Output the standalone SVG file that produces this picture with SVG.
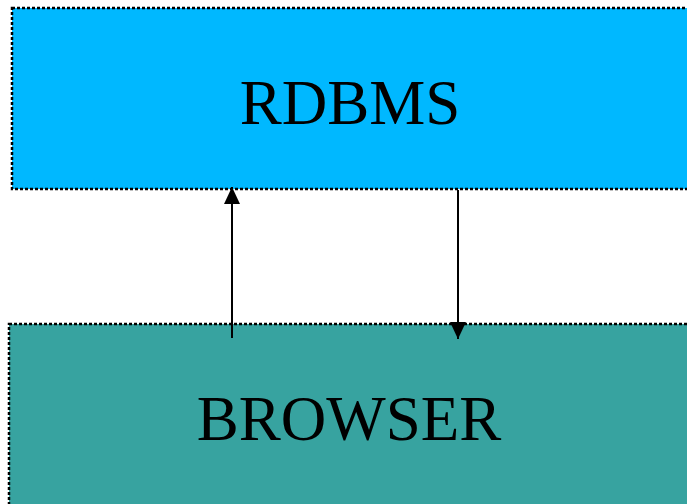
<svg xmlns="http://www.w3.org/2000/svg" width="687" height="504" viewBox="0 0 687 504">
<defs>
<style>
.box{stroke:#000;stroke-width:2.5;stroke-dasharray:3 2}
.lbl{font-family:"Liberation Serif","Times New Roman",serif;font-size:63px;fill:#000;text-anchor:middle}
.conn{stroke:#000;stroke-width:2;fill:none}
</style>
<marker id="ah" viewBox="0 0 17 16" refX="17" refY="8" markerWidth="17" markerHeight="16" markerUnits="userSpaceOnUse" orient="auto">
<path d="M0,0 L17,8 L0,16 Z" fill="#000"/>
</marker>
</defs>
<rect width="687" height="504" fill="#fff"/>
<g id="rdbms">
<rect class="box" x="12" y="8" width="680" height="181" fill="#00B8FF"/>
<text class="lbl" x="350" y="124">RDBMS</text>
</g>
<g id="browser">
<rect class="box" x="9" y="324" width="683" height="185" fill="#37A3A0"/>
<text class="lbl" x="349" y="440">BROWSER</text>
</g>
<g id="connectors">
<line class="conn" x1="232" y1="338" x2="232" y2="187" marker-end="url(#ah)"/>
<line class="conn" x1="458" y1="190" x2="458" y2="339" marker-end="url(#ah)"/>
</g>
</svg>
